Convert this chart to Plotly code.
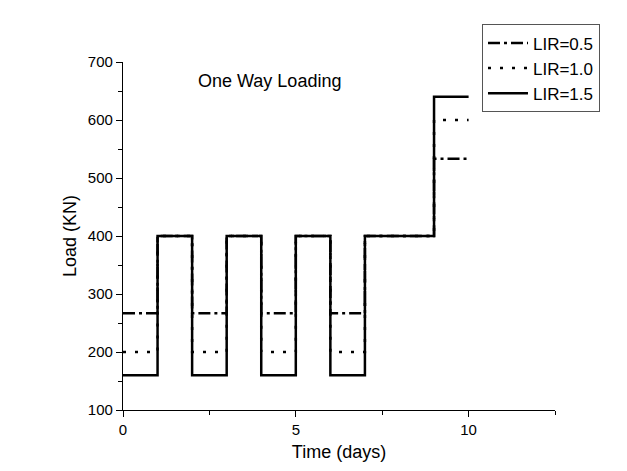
import plotly.graph_objects as go

# Step change times (days) and load levels (KN) for each load increment ratio
time_days = [0, 1, 2, 3, 4, 5, 6, 7, 9, 10]
load_lir_05 = [266.7, 400, 266.7, 400, 266.7, 400, 266.7, 400, 533.3, 533.3]
load_lir_10 = [200, 400, 200, 400, 200, 400, 200, 400, 600, 600]
load_lir_15 = [160, 400, 160, 400, 160, 400, 160, 400, 640, 640]

series = [
    ("LIR=0.5", load_lir_05, "12px,4px,3px,4px"),
    ("LIR=1.0", load_lir_10, "3px,9px"),
    ("LIR=1.5", load_lir_15, "solid"),
]

fig = go.Figure()
for name, vals, dash in series:
    fig.add_trace(go.Scatter(
        x=time_days, y=vals, name=name, mode="lines", line_shape="hv",
        line=dict(color="black", width=2.5, dash=dash),
    ))

axis_common = dict(
    showline=True, linecolor="black", linewidth=1.3, mirror=False,
    showgrid=False, zeroline=False, ticks="outside", ticklen=6,
    tickwidth=1.3, tickcolor="black",
    tickfont=dict(family="Liberation Sans, Arial", size=15, color="black"),
)

fig.update_layout(
    width=627, height=471,
    margin=dict(l=123, r=72, t=62, b=58),
    paper_bgcolor="white", plot_bgcolor="white",
    font=dict(family="Liberation Sans, Arial", color="black"),
    xaxis=dict(
        range=[0, 12.5], tickvals=[0, 5, 10],
        minor=dict(tickvals=[2.5, 7.5, 12.5], ticks="outside", ticklen=4,
                   tickcolor="black", tickwidth=1.3),
        title=dict(text="Time (days)", font=dict(size=18), standoff=8),
        **axis_common,
    ),
    yaxis=dict(
        range=[100, 700], tickvals=[100, 200, 300, 400, 500, 600, 700],
        minor=dict(tickvals=[150, 250, 350, 450, 550, 650], ticks="outside",
                   ticklen=4, tickcolor="black", tickwidth=1.3),
        title=dict(text="Load (KN)", font=dict(size=18), standoff=6),
        **axis_common,
    ),
    legend=dict(
        x=0.831, y=1.108, xanchor="left", yanchor="top",
        bgcolor="white", bordercolor="#555555", borderwidth=1,
        font=dict(size=17, color="black"), tracegroupgap=0,
        itemwidth=40,
    ),
    showlegend=True,
    annotations=[dict(
        text="One Way Loading", x=4.25, y=668, xref="x", yref="y",
        showarrow=False, font=dict(size=18, color="black"),
    )],
)

fig.write_html("out.html")
